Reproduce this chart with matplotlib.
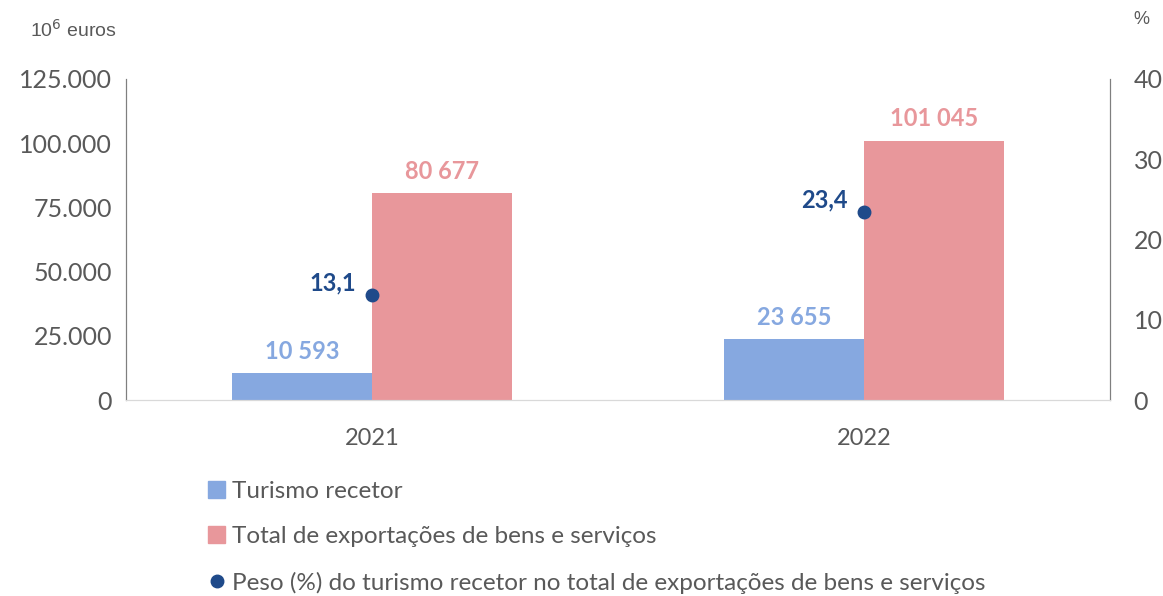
import matplotlib.pyplot as plt
import numpy as np
from matplotlib.lines import Line2D
from matplotlib.patches import Patch

plt.rcParams['font.family'] = ['Lato', 'DejaVu Sans']

# dados
anos = ['2021', '2022']
turismo = [10593, 23655]
exportacoes = [80677, 101045]
peso = [13.1, 23.4]

cor_azul = '#86a8e0'
cor_rosa = '#e8979b'
cor_ponto = '#1f4a8a'
cinza = '#595959'

fig = plt.figure(figsize=(11.63, 5.96), dpi=100)
ax = fig.add_axes([126 / 1163, 1 - 400 / 596, 984 / 1163, 321 / 596])
ax2 = ax.twinx()

x = np.arange(len(anos))
w = 0.285
ax.bar(x - w / 2, turismo, w, color=cor_azul)
ax.bar(x + w / 2, exportacoes, w, color=cor_rosa)

def fmt(v):
    return f'{v:,}'.replace(',', ' ')

for i in range(len(anos)):
    ax.text(x[i] - w / 2, turismo[i] + 4000, fmt(turismo[i]), ha='center', va='bottom',
            color=cor_azul, fontsize=17, fontweight='bold')
    ax.text(x[i] + w / 2, exportacoes[i] + 4000, fmt(exportacoes[i]), ha='center', va='bottom',
            color=cor_rosa, fontsize=17, fontweight='bold')

ax2.plot(x, peso, 'o', color=cor_ponto, markersize=9, zorder=5)
for i in range(len(anos)):
    ax2.text(x[i] - 0.033, peso[i] + 0.1, f'{peso[i]:.1f}'.replace('.', ','), ha='right', va='bottom',
             color=cor_ponto, fontsize=17, fontweight='bold')

ax.set_xlim(-0.5, 1.5)
ax.set_ylim(0, 125000)
ax.set_yticks(np.arange(0, 125001, 25000))
ax.set_yticklabels([f'{int(v):,}'.replace(',', '.') for v in np.arange(0, 125001, 25000)])
ax2.set_ylim(0, 40)
ax2.set_yticks(np.arange(0, 41, 10))
ax.set_xticks(x)
ax.set_xticklabels(anos)

for a in (ax, ax2):
    a.tick_params(length=0, labelsize=18, colors=cinza)
    a.spines['top'].set_visible(False)
    a.spines['left'].set_color('#7f7f7f')
    a.spines['right'].set_color('#7f7f7f')
    a.spines['bottom'].set_color('#d9d9d9')
ax.tick_params(axis='x', labelsize=17, pad=20)
ax.tick_params(axis='y', pad=10)
ax2.tick_params(axis='y', pad=17)

fig.text(30 / 1163, 1 - 30 / 596, r'10$^{6}$ euros', fontsize=14, color=cinza, va='center',
         family='Liberation Sans')
fig.text(1133 / 1163, 1 - 20 / 596, '%', fontsize=13, color=cinza, va='center',
         family='Liberation Sans')

handles = [
    Patch(color=cor_azul, label='Turismo recetor'),
    Patch(color=cor_rosa, label='Total de exportações de bens e serviços'),
    Line2D([], [], marker='o', linestyle='', color=cor_ponto, markersize=9,
           label='Peso (%) do turismo recetor no total de exportações de bens e serviços'),
]
fig.legend(handles=handles, loc='upper left', bbox_to_anchor=(208 / 1163, 1 - 481 / 596),
           frameon=False, fontsize=17.5, labelcolor=cinza, handlelength=0.7, handleheight=0.7,
           handletextpad=0.3, labelspacing=1.0, borderaxespad=0, borderpad=0)

fig.savefig('out.png', dpi=100)
